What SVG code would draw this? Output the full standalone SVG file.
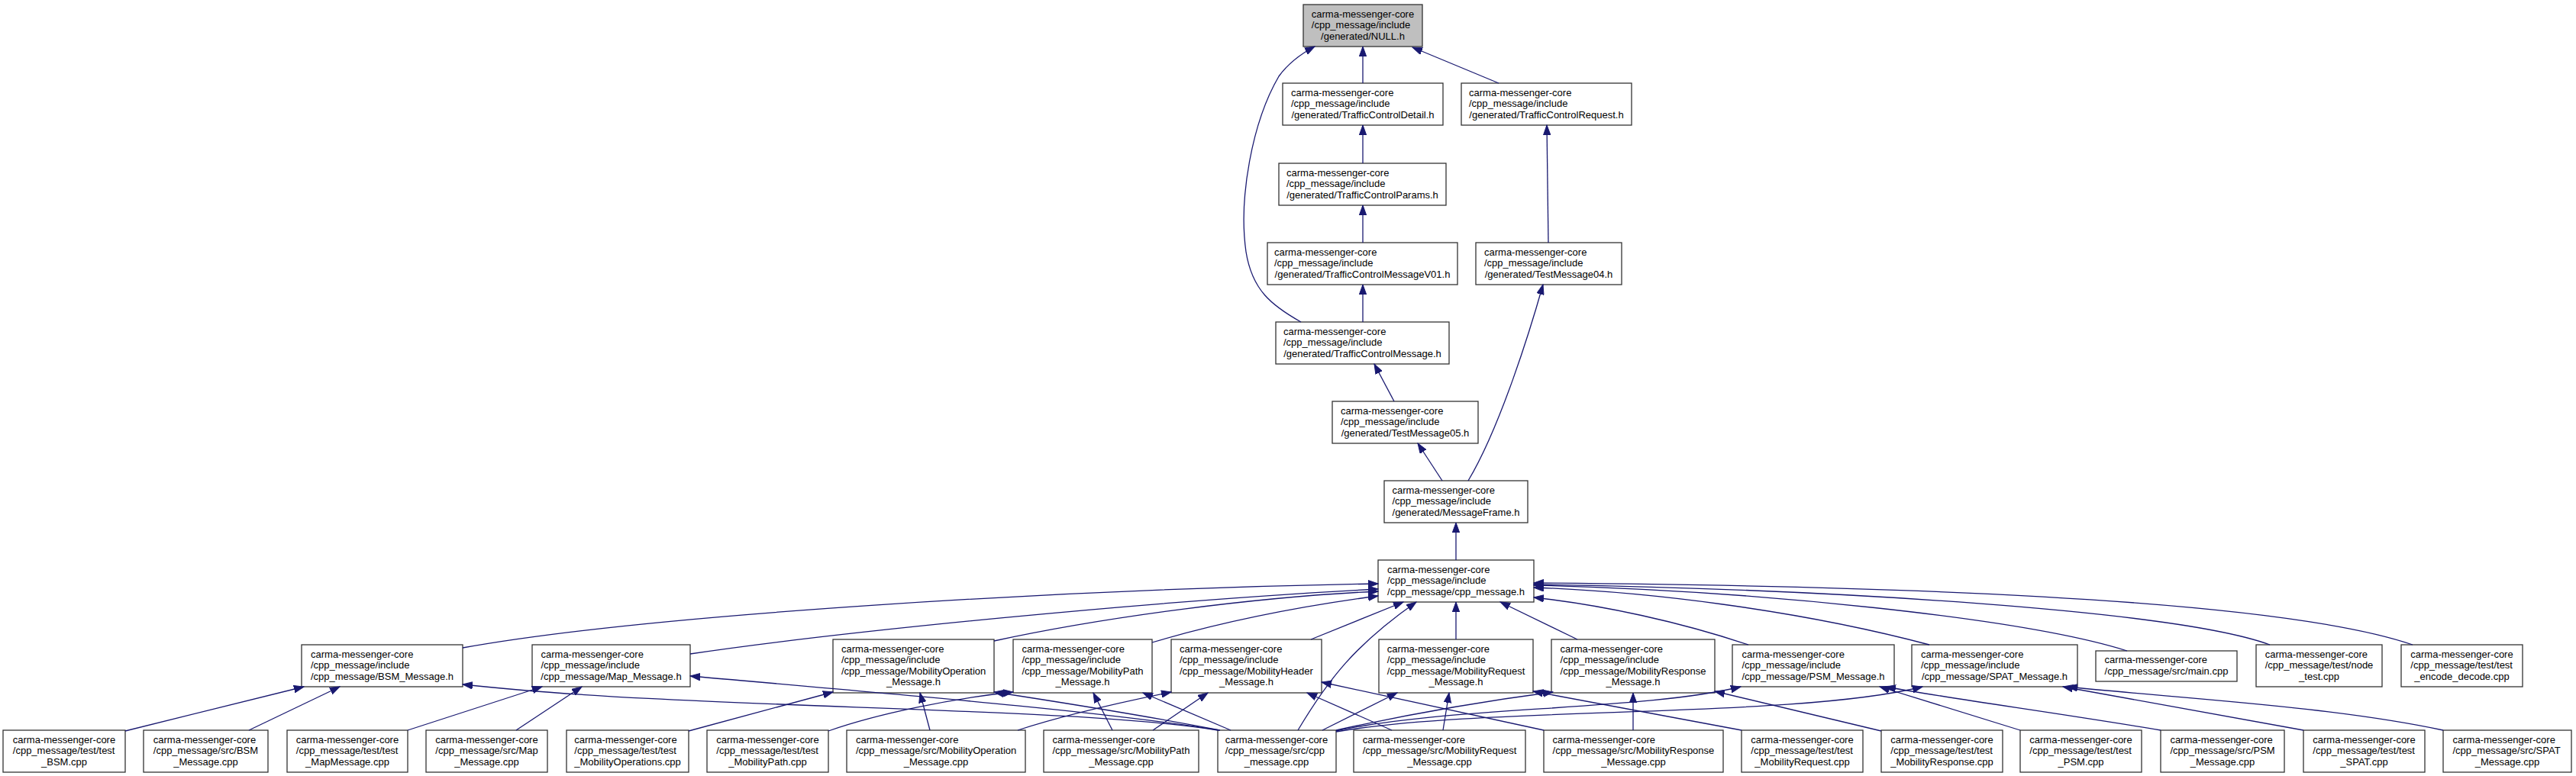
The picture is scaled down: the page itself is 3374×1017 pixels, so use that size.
<svg xmlns="http://www.w3.org/2000/svg" width="3374" height="1017" viewBox="0 0 3374 1017">
<defs>
<style>
.node rect{fill:#ffffff;stroke:#333333;stroke-width:1.3}
.node rect.hl{fill:#bfbfbf}
.node text{font-family:"Liberation Sans",Arial,Helvetica,sans-serif;font-size:13px;fill:#000000}
.node text.c{text-anchor:middle}
.edge{fill:none;stroke:#191970;stroke-width:1.3;marker-end:url(#arr)}
</style>
<marker id="arr" markerUnits="userSpaceOnUse" markerWidth="14" markerHeight="10" refX="13" refY="5" orient="auto">
<path d="M0,0.3 L13,5 L0,9.7 z" fill="#191970" stroke="#191970" stroke-width="1"/>
</marker>
</defs>
<rect x="0" y="0" width="3374" height="1017" fill="#ffffff"/>
<g id="nodes">
<g id="n_null" class="node"><rect class="hl" x="1707" y="6" width="156" height="55"/><text x="1717.8" y="22.5">carma-messenger-core</text><text x="1717.8" y="37">/cpp_message/include</text><text class="c" x="1785" y="51.5">/generated/NULL.h</text></g>
<g id="n_tcdetail" class="node"><rect x="1680" y="109" width="210" height="55"/><text x="1691" y="125.5">carma-messenger-core</text><text x="1691" y="140">/cpp_message/include</text><text class="c" x="1785" y="154.5">/generated/TrafficControlDetail.h</text></g>
<g id="n_tcrequest" class="node"><rect x="1914" y="109" width="223" height="55"/><text x="1924" y="125.5">carma-messenger-core</text><text x="1924" y="140">/cpp_message/include</text><text class="c" x="2025.5" y="154.5">/generated/TrafficControlRequest.h</text></g>
<g id="n_tcparams" class="node"><rect x="1675" y="214" width="219" height="55"/><text x="1685" y="230.5">carma-messenger-core</text><text x="1685" y="245">/cpp_message/include</text><text class="c" x="1784.5" y="259.5">/generated/TrafficControlParams.h</text></g>
<g id="n_tcmsgv01" class="node"><rect x="1660" y="318" width="249" height="55"/><text x="1669" y="334.5">carma-messenger-core</text><text x="1669" y="349">/cpp_message/include</text><text class="c" x="1784.5" y="363.5">/generated/TrafficControlMessageV01.h</text></g>
<g id="n_testmsg04" class="node"><rect x="1933" y="318" width="191" height="55"/><text x="1944" y="334.5">carma-messenger-core</text><text x="1944" y="349">/cpp_message/include</text><text class="c" x="2028.5" y="363.5">/generated/TestMessage04.h</text></g>
<g id="n_tcmsg" class="node"><rect x="1671" y="422" width="227" height="55"/><text x="1681" y="438.5">carma-messenger-core</text><text x="1681" y="453">/cpp_message/include</text><text class="c" x="1784.5" y="467.5">/generated/TrafficControlMessage.h</text></g>
<g id="n_testmsg05" class="node"><rect x="1745" y="526" width="191" height="55"/><text x="1756" y="542.5">carma-messenger-core</text><text x="1756" y="557">/cpp_message/include</text><text class="c" x="1840.5" y="571.5">/generated/TestMessage05.h</text></g>
<g id="n_msgframe" class="node"><rect x="1813" y="630" width="188" height="55"/><text x="1823.5" y="646.5">carma-messenger-core</text><text x="1823.5" y="661">/cpp_message/include</text><text class="c" x="1907" y="675.5">/generated/MessageFrame.h</text></g>
<g id="n_cpph" class="node"><rect x="1805" y="734" width="204" height="55"/><text x="1817" y="750.5">carma-messenger-core</text><text x="1817" y="765">/cpp_message/include</text><text class="c" x="1907" y="779.5">/cpp_message/cpp_message.h</text></g>

<g id="n_bsmh" class="node"><rect x="395" y="845" width="211" height="55"/><text x="407" y="861.5">carma-messenger-core</text><text x="407" y="876">/cpp_message/include</text><text class="c" x="500.5" y="890.5">/cpp_message/BSM_Message.h</text></g>
<g id="n_maph" class="node"><rect x="697" y="845" width="207" height="55"/><text x="708.5" y="861.5">carma-messenger-core</text><text x="708.5" y="876">/cpp_message/include</text><text class="c" x="800.5" y="890.5">/cpp_message/Map_Message.h</text></g>
<g id="n_mobop" class="node"><rect x="1091" y="838" width="211" height="70"/><text x="1102" y="854.5">carma-messenger-core</text><text x="1102" y="869">/cpp_message/include</text><text x="1102" y="883.5">/cpp_message/MobilityOperation</text><text class="c" x="1196.5" y="898">_Message.h</text></g>
<g id="n_mobpath" class="node"><rect x="1327" y="838" width="182" height="70"/><text x="1338.5" y="854.5">carma-messenger-core</text><text x="1338.5" y="869">/cpp_message/include</text><text x="1338.5" y="883.5">/cpp_message/MobilityPath</text><text class="c" x="1418" y="898">_Message.h</text></g>
<g id="n_mobhdr" class="node"><rect x="1534" y="838" width="197" height="70"/><text x="1545" y="854.5">carma-messenger-core</text><text x="1545" y="869">/cpp_message/include</text><text x="1545" y="883.5">/cpp_message/MobilityHeader</text><text class="c" x="1632.5" y="898">_Message.h</text></g>
<g id="n_mobreq" class="node"><rect x="1806" y="838" width="202" height="70"/><text x="1816.7" y="854.5">carma-messenger-core</text><text x="1816.7" y="869">/cpp_message/include</text><text x="1816.7" y="883.5">/cpp_message/MobilityRequest</text><text class="c" x="1907" y="898">_Message.h</text></g>
<g id="n_mobresp" class="node"><rect x="2032" y="838" width="214" height="70"/><text x="2043.6" y="854.5">carma-messenger-core</text><text x="2043.6" y="869">/cpp_message/include</text><text x="2043.6" y="883.5">/cpp_message/MobilityResponse</text><text class="c" x="2139" y="898">_Message.h</text></g>
<g id="n_psmh" class="node"><rect x="2269" y="845" width="212" height="55"/><text x="2281.5" y="861.5">carma-messenger-core</text><text x="2281.5" y="876">/cpp_message/include</text><text class="c" x="2375" y="890.5">/cpp_message/PSM_Message.h</text></g>
<g id="n_spath" class="node"><rect x="2504" y="845" width="217" height="55"/><text x="2516" y="861.5">carma-messenger-core</text><text x="2516" y="876">/cpp_message/include</text><text class="c" x="2612.5" y="890.5">/cpp_message/SPAT_Message.h</text></g>
<g id="n_main" class="node"><rect x="2745" y="853" width="185" height="40"/><text x="2756.6" y="869">carma-messenger-core</text><text class="c" x="2837.5" y="883.5">/cpp_message/src/main.cpp</text></g>
<g id="n_nodetest" class="node"><rect x="2955" y="845" width="165" height="55"/><text x="2966.7" y="861.5">carma-messenger-core</text><text x="2966.7" y="876">/cpp_message/test/node</text><text class="c" x="3037.5" y="890.5">_test.cpp</text></g>
<g id="n_encdec" class="node"><rect x="3145" y="845" width="159" height="55"/><text x="3157.3" y="861.5">carma-messenger-core</text><text x="3157.3" y="876">/cpp_message/test/test</text><text class="c" x="3224.5" y="890.5">_encode_decode.cpp</text></g>

<g id="n_testbsm" class="node"><rect x="4" y="957" width="160" height="55"/><text x="16.8" y="973.5">carma-messenger-core</text><text x="16.8" y="988">/cpp_message/test/test</text><text class="c" x="84" y="1002.5">_BSM.cpp</text></g>
<g id="n_bsmcpp" class="node"><rect x="188" y="957" width="163" height="55"/><text x="200.8" y="973.5">carma-messenger-core</text><text x="200.8" y="988">/cpp_message/src/BSM</text><text class="c" x="269.5" y="1002.5">_Message.cpp</text></g>
<g id="n_testmap" class="node"><rect x="376" y="957" width="158" height="55"/><text x="387.8" y="973.5">carma-messenger-core</text><text x="387.8" y="988">/cpp_message/test/test</text><text class="c" x="455" y="1002.5">_MapMessage.cpp</text></g>
<g id="n_mapcpp" class="node"><rect x="558" y="957" width="159" height="55"/><text x="570.3" y="973.5">carma-messenger-core</text><text x="570.3" y="988">/cpp_message/src/Map</text><text class="c" x="637.5" y="1002.5">_Message.cpp</text></g>
<g id="n_testmobops" class="node"><rect x="742" y="957" width="160" height="55"/><text x="752.3" y="973.5">carma-messenger-core</text><text x="752.3" y="988">/cpp_message/test/test</text><text class="c" x="822" y="1002.5">_MobilityOperations.cpp</text></g>
<g id="n_testmobpath" class="node"><rect x="926" y="957" width="159" height="55"/><text x="938.3" y="973.5">carma-messenger-core</text><text x="938.3" y="988">/cpp_message/test/test</text><text class="c" x="1005.5" y="1002.5">_MobilityPath.cpp</text></g>
<g id="n_mobopcpp" class="node"><rect x="1109" y="957" width="234" height="55"/><text x="1121" y="973.5">carma-messenger-core</text><text x="1121" y="988">/cpp_message/src/MobilityOperation</text><text class="c" x="1226" y="1002.5">_Message.cpp</text></g>
<g id="n_mobpathcpp" class="node"><rect x="1367" y="957" width="203" height="55"/><text x="1378.5" y="973.5">carma-messenger-core</text><text x="1378.5" y="988">/cpp_message/src/MobilityPath</text><text class="c" x="1468.5" y="1002.5">_Message.cpp</text></g>
<g id="n_cppcpp" class="node"><rect x="1595" y="957" width="155" height="55"/><text x="1604.8" y="973.5">carma-messenger-core</text><text x="1604.8" y="988">/cpp_message/src/cpp</text><text class="c" x="1672" y="1002.5">_message.cpp</text></g>
<g id="n_mobreqcpp" class="node"><rect x="1773" y="957" width="225" height="55"/><text x="1784.7" y="973.5">carma-messenger-core</text><text x="1784.7" y="988">/cpp_message/src/MobilityRequest</text><text class="c" x="1885.5" y="1002.5">_Message.cpp</text></g>
<g id="n_mobrespcpp" class="node"><rect x="2022" y="957" width="235" height="55"/><text x="2033.6" y="973.5">carma-messenger-core</text><text x="2033.6" y="988">/cpp_message/src/MobilityResponse</text><text class="c" x="2139.5" y="1002.5">_Message.cpp</text></g>
<g id="n_testmobreq" class="node"><rect x="2281" y="957" width="159" height="55"/><text x="2293.3" y="973.5">carma-messenger-core</text><text x="2293.3" y="988">/cpp_message/test/test</text><text class="c" x="2360.5" y="1002.5">_MobilityRequest.cpp</text></g>
<g id="n_testmobresp" class="node"><rect x="2464" y="957" width="159" height="55"/><text x="2476.3" y="973.5">carma-messenger-core</text><text x="2476.3" y="988">/cpp_message/test/test</text><text class="c" x="2543.5" y="1002.5">_MobilityResponse.cpp</text></g>
<g id="n_testpsm" class="node"><rect x="2646" y="957" width="159" height="55"/><text x="2658.3" y="973.5">carma-messenger-core</text><text x="2658.3" y="988">/cpp_message/test/test</text><text class="c" x="2725.5" y="1002.5">_PSM.cpp</text></g>
<g id="n_psmcpp" class="node"><rect x="2830" y="957" width="162" height="55"/><text x="2842.4" y="973.5">carma-messenger-core</text><text x="2842.4" y="988">/cpp_message/src/PSM</text><text class="c" x="2911" y="1002.5">_Message.cpp</text></g>
<g id="n_testspat" class="node"><rect x="3017" y="957" width="159" height="55"/><text x="3029.3" y="973.5">carma-messenger-core</text><text x="3029.3" y="988">/cpp_message/test/test</text><text class="c" x="3096.5" y="1002.5">_SPAT.cpp</text></g>
<g id="n_spatcpp" class="node"><rect x="3200" y="957" width="168" height="55"/><text x="3212.5" y="973.5">carma-messenger-core</text><text x="3212.5" y="988">/cpp_message/src/SPAT</text><text class="c" x="3284" y="1002.5">_Message.cpp</text></g>
</g>

<g id="connectors">
<path class="edge" d="M1785,109 L1785,61"/>
<path class="edge" d="M1963,109 L1850,62"/>
<path class="edge" d="M1704,422 C1665,400 1640,380 1632,330 C1622,260 1640,160 1675,100 C1688,82 1705,70 1722,61"/>
<path class="edge" d="M1785,214 L1785,164"/>
<path class="edge" d="M1785,318 L1785,269"/>
<path class="edge" d="M1785,422 L1785,373"/>
<path class="edge" d="M2028,318 L2026,164"/>
<path class="edge" d="M1826,526 L1800,477"/>
<path class="edge" d="M1889,630 L1857,581"/>
<path class="edge" d="M1923,630 C1965,560 2005,430 2021,373"/>
<path class="edge" d="M1907,734 L1907,685"/>

<path class="edge" d="M606,849 C850,805 1400,772 1805,765"/>
<path class="edge" d="M904,857 C1100,828 1500,788 1805,772"/>
<path class="edge" d="M1302,840 C1450,808 1650,782 1805,775"/>
<path class="edge" d="M1509,842 C1600,815 1700,795 1805,781"/>
<path class="edge" d="M1717,838 L1838,789"/>
<path class="edge" d="M1700,957 C1740,890 1775,845 1855,789"/>
<path class="edge" d="M1907,838 L1907,789"/>
<path class="edge" d="M2066,838 L1965,789"/>
<path class="edge" d="M2290,845 C2200,815 2100,793 2009,783"/>
<path class="edge" d="M2527,845 C2350,798 2150,775 2009,770"/>
<path class="edge" d="M2786,853 C2650,810 2300,774 2009,767"/>
<path class="edge" d="M2973,845 C2850,800 2400,772 2009,766"/>
<path class="edge" d="M3160,845 C3000,790 2550,768 2009,764"/>

<path class="edge" d="M164,958 L398,900"/>
<path class="edge" d="M326,957 L445,900"/>
<path class="edge" d="M534,957 L710,900"/>
<path class="edge" d="M676,957 L762,900"/>
<path class="edge" d="M902,958 L1091,907"/>
<path class="edge" d="M1085,958 C1150,935 1250,915 1327,907"/>
<path class="edge" d="M1218,957 L1205,908"/>
<path class="edge" d="M1333,957 C1400,935 1480,918 1534,907"/>
<path class="edge" d="M1457,957 L1432,908"/>
<path class="edge" d="M1510,957 L1582,908"/>
<path class="edge" d="M1612,957 L1497,908"/>
<path class="edge" d="M1732,957 L1830,908"/>
<path class="edge" d="M1823,957 L1712,908"/>
<path class="edge" d="M1890,957 L1898,908"/>
<path class="edge" d="M2022,957 L1731,894"/>
<path class="edge" d="M2139,957 L2139,908"/>
<path class="edge" d="M2281,957 L2008,906"/>
<path class="edge" d="M2464,958 L2246,906"/>
<path class="edge" d="M2646,957 L2462,900"/>
<path class="edge" d="M2830,957 C2700,935 2550,915 2470,900"/>
<path class="edge" d="M3017,957 L2702,900"/>
<path class="edge" d="M3200,957 C3050,925 2850,915 2708,900"/>

<path class="edge" d="M1595,957 C1400,925 900,930 606,897"/>
<path class="edge" d="M1597,957 C1450,933 1200,912 904,886"/>
<path class="edge" d="M1598,957 C1500,938 1400,922 1302,907"/>
<path class="edge" d="M1750,957 C1850,935 1950,918 2034,907"/>
<path class="edge" d="M1750,958 C1900,925 2150,932 2280,900"/>
<path class="edge" d="M1750,959 C1950,925 2350,942 2518,900"/>
</g>
</svg>
